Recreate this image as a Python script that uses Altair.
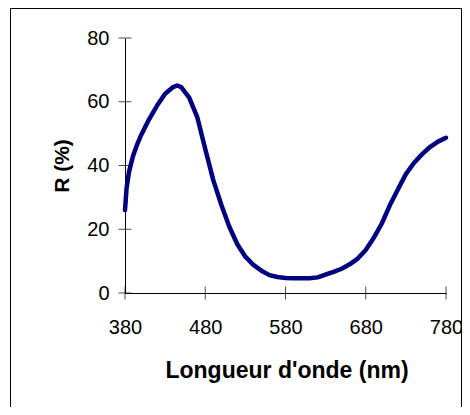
import altair as alt
import pandas as pd

wavelength = [380, 382, 385, 390, 395, 400, 410, 420, 430, 440, 445, 450, 460, 470,
              480, 490, 500, 510, 520, 530, 540, 550, 560, 570, 580, 590, 600, 610,
              620, 630, 640, 650, 660, 670, 680, 690, 700, 710, 720, 730, 740, 750,
              760, 770, 780]
reflectance = [26.0, 33.0, 38.0, 43.0, 46.5, 49.5, 54.5, 58.8, 62.5, 64.6, 65.1, 64.6, 61.3, 55.2,
               45.2, 35.4, 27.7, 20.8, 15.3, 11.4, 8.8, 7.0, 5.6, 5.0, 4.7, 4.6, 4.6, 4.6,
               4.9, 5.8, 6.6, 7.6, 9.0, 10.8, 13.5, 17.3, 21.8, 27.5, 32.5, 37.3, 40.8, 43.5,
               45.8, 47.5, 48.7]
x_ticks = [380, 480, 580, 680, 780]
y_ticks = [0, 20, 40, 60, 80]

df = pd.DataFrame({"wl": wavelength, "R": reflectance})
xt = pd.DataFrame({"wl": x_ticks, "R": [0] * len(x_ticks)})
yt = pd.DataFrame({"wl": [380] * len(y_ticks), "R": y_ticks})

W, H = 321, 255
FONT = "Liberation Sans"

xscale = alt.Scale(domain=[380, 780], nice=False, zero=False)
yscale = alt.Scale(domain=[0, 80], nice=False)

ax_x = alt.Axis(
    values=x_ticks, title="Longueur d'onde (nm)", grid=False, ticks=False, tickSize=0,
    labelPadding=24, labelFontSize=20, labelFont=FONT, labelColor="black",
    domainColor="black", domainWidth=1,
    titleFont=FONT, titleFontSize=23, titleFontWeight="bold", titleColor="black",
    titleBaseline="alphabetic", titleX=161.5, titleY=84, labelFlush=False)
ax_y = alt.Axis(
    values=y_ticks, title="R (%)", grid=False, ticks=False, tickSize=0,
    labelPadding=16, labelFontSize=20, labelFont=FONT, labelColor="black",
    domainColor="black", domainWidth=1,
    titleFont=FONT, titleFontSize=21, titleFontWeight="bold", titleColor="black",
    titleBaseline="alphabetic", titleX=-57, titleY=127.5, titleAngle=270,
    labelFlush=False)

X = alt.X("wl:Q", scale=xscale, axis=ax_x, title="Longueur d'onde (nm)")
Y = alt.Y("R:Q", scale=yscale, axis=ax_y, title="R (%)")

border = alt.Chart(pd.DataFrame({"a": [0]})).mark_rect(
    fill="transparent", stroke="black", strokeWidth=1
).encode(
    x=alt.value(-114.5), x2=alt.value(336.5), y=alt.value(-29.5), y2=alt.value(420)
)

line = alt.Chart(df).mark_line(color="#000080", strokeWidth=4.5, strokeCap="round",
                               strokeJoin="round").encode(x=X, y=Y)

xtick = alt.Chart(xt).mark_tick(orient="vertical", size=13, thickness=1,
                                color="black").encode(x=X, y=Y)
ytick = alt.Chart(yt).mark_tick(orient="horizontal", size=13, thickness=1,
                                color="black").encode(x=X, y=Y)

chart = alt.layer(line, border, xtick, ytick).properties(
    width=W, height=H,
    background="white",
    autosize=alt.AutoSizeParams(type="none"),
    padding={"left": 117, "top": 30, "right": 16, "bottom": 114},
).configure_view(stroke=None)

chart.save("out.html", embed_options={"renderer": "svg", "actions": False})
